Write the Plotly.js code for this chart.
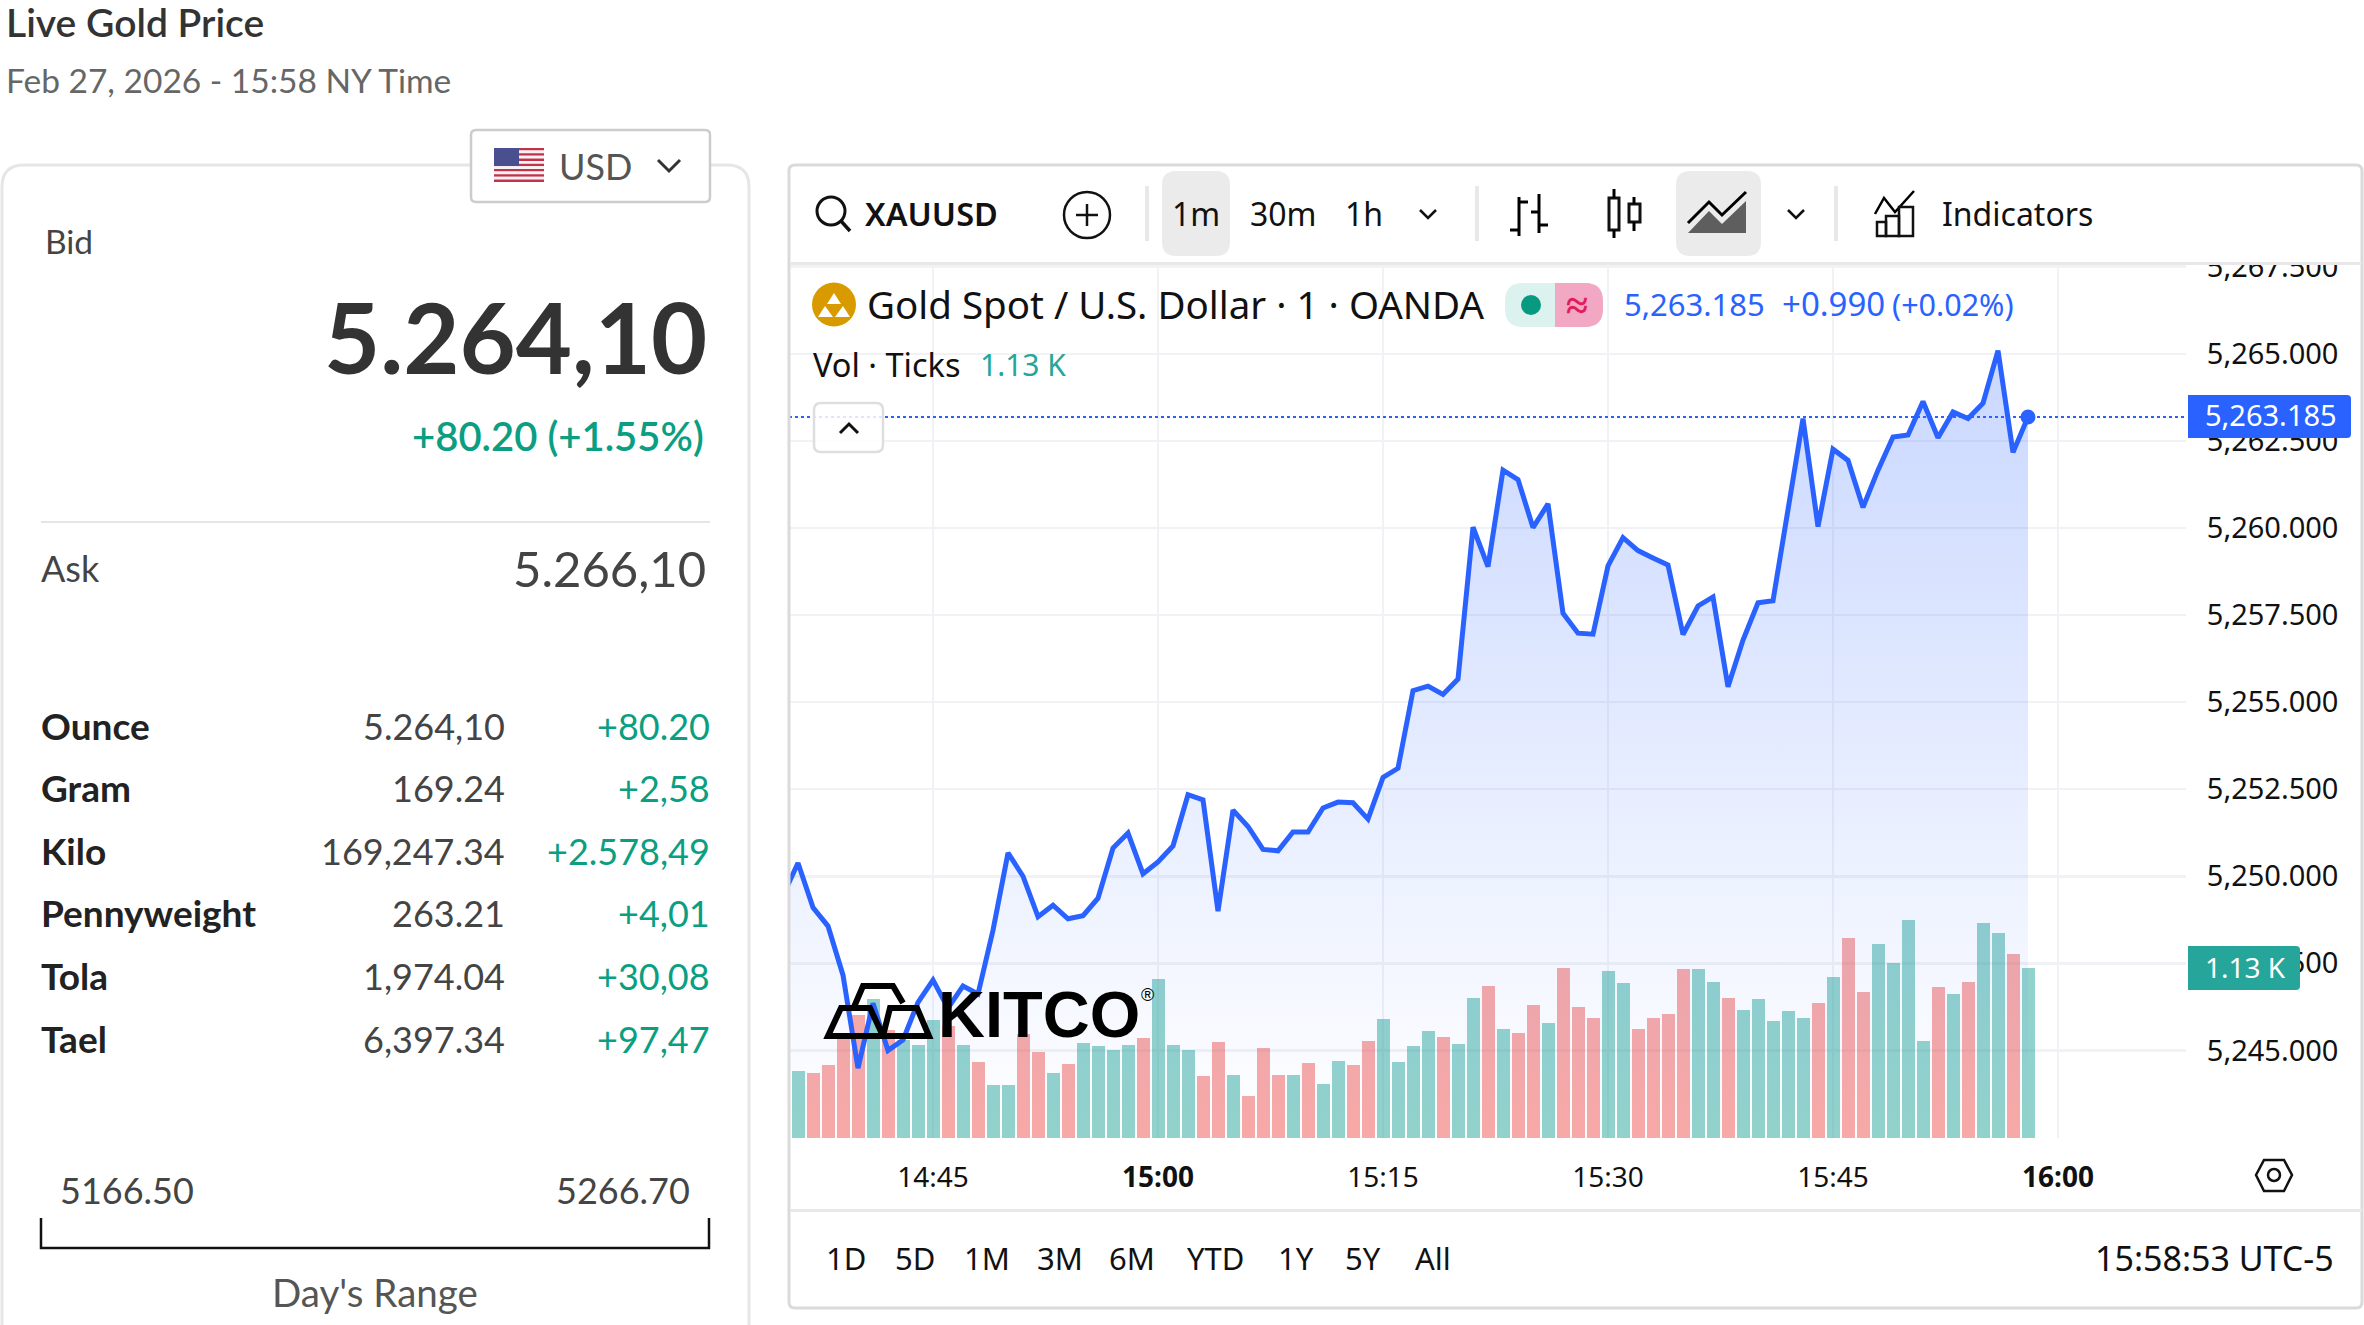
<!DOCTYPE html>
<html><head><meta charset="utf-8">
<script src="https://cdn.plot.ly/plotly-3.0.1.min.js"></script>
<style>html,body{margin:0;padding:0;background:#fff}#chart{width:2364px;height:1325px}</style>
</head><body><div id="chart"></div>
<script>
// ---------- chart data ----------
const priceTimes = ["14:35","14:36","14:37","14:38","14:39","14:40","14:41","14:42","14:43","14:44","14:45","14:46","14:47","14:48","14:49","14:50","14:51","14:52","14:53","14:54","14:55","14:56","14:57","14:58","14:59","15:00","15:01","15:02","15:03","15:04","15:05","15:06","15:07","15:08","15:09","15:10","15:11","15:12","15:13","15:14","15:15","15:16","15:17","15:18","15:19","15:20","15:21","15:22","15:23","15:24","15:25","15:26","15:27","15:28","15:29","15:30","15:31","15:32","15:33","15:34","15:35","15:36","15:37","15:38","15:39","15:40","15:41","15:42","15:43","15:44","15:45","15:46","15:47","15:48","15:49","15:50","15:51","15:52","15:53","15:54","15:55","15:56","15:57","15:58"];
const closes = [5249.45,5250.38,5249.10,5248.57,5247.16,5244.49,5246.35,5245.00,5245.30,5246.38,5247.02,5246.21,5246.85,5246.62,5248.45,5250.67,5250.00,5248.84,5249.17,5248.78,5248.87,5249.37,5250.81,5251.24,5250.07,5250.41,5250.87,5252.34,5252.19,5249.00,5251.90,5251.43,5250.77,5250.73,5251.27,5251.27,5251.96,5252.13,5252.11,5251.64,5252.84,5253.10,5255.33,5255.46,5255.22,5255.66,5260.02,5258.89,5261.66,5261.39,5260.01,5260.69,5257.55,5256.98,5256.95,5258.91,5259.72,5259.35,5259.14,5258.94,5256.94,5257.76,5258.02,5255.44,5256.78,5257.85,5257.91,5260.48,5263.14,5260.04,5262.26,5261.94,5260.59,5261.66,5262.61,5262.67,5263.63,5262.59,5263.33,5263.14,5263.58,5265.09,5262.17,5263.185];
const volumes = [446,432,485,685,818,924,718,652,618,785,745,618,505,352,352,692,572,432,492,632,612,585,618,665,1057,618,583,410,636,417,277,596,417,417,497,357,510,483,643,789,503,610,709,669,623,929,1009,723,696,882,763,1128,869,796,1108,1029,723,796,822,1122,1122,1035,929,849,922,776,842,796,896,1068,1328,969,1288,1162,1448,643,1002,955,1035,1428,1361,1221,1130];
const volumeDirs = ["G","R","R","R","R","G","R","G","G","G","R","G","R","G","G","R","R","G","R","G","G","G","G","R","G","G","G","R","R","G","R","R","R","G","R","G","G","R","R","G","G","G","G","R","G","G","R","G","R","R","G","R","R","R","G","G","R","R","R","R","G","G","R","G","G","G","G","G","R","G","R","R","G","G","G","G","R","G","R","G","G","R","G"];
const priceTicks = [5245,5247.5,5250,5252.5,5255,5257.5,5260,5262.5,5265,5267.5];
const timeTicks = ["14:45","15:00","15:15","15:30","15:45","16:00"];
const timeTickLabels = ["14:45","<b>15:00</b>","15:15","15:30","15:45","<b>16:00</b>"];
const lastPrice = 5263.185;
const panelRows = [["Ounce","5.264,10","+80.20"],["Gram","169.24","+2,58"],["Kilo","169,247.34","+2.578,49"],["Pennyweight","263.21","+4,01"],["Tola","1,974.04","+30,08"],["Tael","6,397.34","+97,47"]];
const rangeButtons = ["1D","5D","1M","3M","6M","YTD","1Y","5Y","All"];

// ---------- page geometry ----------
const W=2364,H=1325;
const PX=x=>x/W, PY=y=>1-y/H;
const day="2026-02-27 ";
const BLUE="#2962FF",TEAL="#26A69A",GREEN="#0A9E82",DARK="#333333",CF='"Noto Sans"',LF='Lato';
const plotL=789,plotR=2186,plotT=263,plotB=1138;

const annotations=[], shapes=[];
function T(text,x,y,size,color,anchor,family,weight){
  annotations.push({text:text,x:PX(x),y:PY(y),xref:'paper',yref:'paper',xanchor:anchor||'left',yanchor:'middle',showarrow:false,borderpad:0,borderwidth:0,
    font:{size:size,color:color,family:family||LF,weight:weight||400}});
}
function R(x0,y0,x1,y1,fill,line,lw){ shapes.push({type:'rect',xref:'paper',yref:'paper',x0:PX(x0),x1:PX(x1),y0:PY(y0),y1:PY(y1),fillcolor:fill||'rgba(0,0,0,0)',line:{color:line||'rgba(0,0,0,0)',width:lw||0},layer:'above'}); }
const PXR=x=>(x/W).toFixed(6), PYR=y=>(1-y/H).toFixed(6);
function P(pts,opt){ opt=opt||{}; const d=pts.map((p,i)=>(i?'L':'M')+PXR(p[0])+' '+PYR(p[1])).join(' ')+(opt.close?' Z':'');
  shapes.push({type:'path',xref:'paper',yref:'paper',path:d,fillcolor:opt.fill||'rgba(0,0,0,0)',line:{color:opt.color||'#000',width:opt.w===undefined?2:opt.w},layer:'above'}); }
function RR(x0,y0,x1,y1,r,fill,line,lw,openBottom){
  const X=PXR,Y=PYR;
  let d='M'+X(x0)+' '+Y(y0+r)+' Q'+X(x0)+' '+Y(y0)+' '+X(x0+r)+' '+Y(y0)+' L'+X(x1-r)+' '+Y(y0)+' Q'+X(x1)+' '+Y(y0)+' '+X(x1)+' '+Y(y0+r);
  if(openBottom){ d+=' L'+X(x1)+' '+Y(y1)+' M'+X(x0)+' '+Y(y1)+' L'+X(x0)+' '+Y(y0+r); }
  else d+=' L'+X(x1)+' '+Y(y1-r)+' Q'+X(x1)+' '+Y(y1)+' '+X(x1-r)+' '+Y(y1)+' L'+X(x0+r)+' '+Y(y1)+' Q'+X(x0)+' '+Y(y1)+' '+X(x0)+' '+Y(y1-r)+' Z';
  shapes.push({type:'path',xref:'paper',yref:'paper',path:d,fillcolor:fill||'rgba(0,0,0,0)',line:{color:line||'rgba(0,0,0,0)',width:lw||0},layer:'above'});
}
function circle(cx,cy,r,fill,line,lw){ shapes.push({type:'circle',xref:'paper',yref:'paper',x0:PX(cx-r),x1:PX(cx+r),y0:PY(cy+r),y1:PY(cy-r),fillcolor:fill||'rgba(0,0,0,0)',line:{color:line||'rgba(0,0,0,0)',width:lw||0},layer:'above'}); }

// ---------- left panel ----------
T("Live Gold Price",6,22,39,DARK,'left',LF,600);
T("Feb 27, 2026 - 15:58 NY Time",6,80,33.5,"#666666");
RR(2,165,749,1340,22,null,"#E6E6E6",3,true);
RR(471,130,710,202,5,"#FFFFFF","#CCCCCC",2.5);
// flag
for(let i=0;i<13;i++) R(494,148+i*34/13,544,148+(i+1)*34/13,i%2?"#F4F4F4":"#C4314B");
R(494,148,519,166,"#4A4F8F");
T("USD",559,166,36,"#555555");
P([[658,160],[669,171],[680,160]],{color:"#333",w:3});
T("Bid",45,241,33.5,"#444444");
T("5.264,10",707,336,97,DARK,'right',LF,700);
T("+80.20 (+1.55%)",704,436,40,GREEN,'right',LF,600);
R(41,521,710,523,"#E5E5E5");
T("Ask",41,568,36,"#444444");
T("5.266,10",706,568,49,"#444444",'right',LF,400);
const rowYs=[725.5,787.5,850.5,912.5,975.5,1038.5];
panelRows.forEach((r,i)=>{ T(r[0],41,rowYs[i],37,"#222222",'left',LF,700); T(r[1],505,rowYs[i],36,"#444444",'right'); T(r[2],710,rowYs[i],36,GREEN,'right'); });
T("5166.50",60,1190,36,"#444444"); T("5266.70",690,1190,36,"#444444",'right');
P([[41,1218],[41,1248],[709,1248],[709,1218]],{color:"#111",w:2.5});
T("Day's Range",375,1292,38.5,"#555555",'center');

// ---------- chart frame and toolbar ----------
R(789,167,2362,262,"#FFFFFF");                 // toolbar hides what rises above the plot
R(2187,1139,2362,1150,"#FFFFFF");
RR(789,165,2362,1308,6,null,"#DADADA",3);
R(790,262,2362,265,"#E8E8E8");
R(790,1209,2362,1212,"#E8E8E8");
// search
circle(831,211,14,null,"#111",3); P([[841,221],[850,231]],{color:"#111",w:3.5});
T("XAUUSD",865,213.5,32.5,"#111111",'left',CF,600);
circle(1087,215,23,null,"#111",2.5); P([[1076,215],[1098,215]],{color:"#111",w:2.5}); P([[1087,204],[1087,226]],{color:"#111",w:2.5});
R(1145,186,1149,241,"#E8E8E8");
RR(1162,171,1230,256,14,"#EBEBEB");
T("1m",1196,214,32,"#111111",'center',CF); T("30m",1283,214,32,"#111111",'center',CF); T("1h",1364,214,32,"#111111",'center',CF);
P([[1420,210],[1428,218],[1436,210]],{color:"#111",w:2.5});
R(1475,186,1479,241,"#E8E8E8");
// bars icon
P([[1519,197],[1519,236]],{w:3}); P([[1519,202],[1528,202]],{w:3}); P([[1510,230],[1519,230]],{w:3});
P([[1539,194],[1539,233]],{w:3}); P([[1531,212],[1539,212]],{w:3}); P([[1539,225],[1548,225]],{w:3});
// candle icon
R(1609,198,1619,230,null,"#111",3); P([[1614,189],[1614,198]],{w:3}); P([[1614,230],[1614,238]],{w:3});
R(1629,204,1640,222,null,"#111",3); P([[1634,197],[1634,204]],{w:3}); P([[1634,222],[1634,231]],{w:3});
// area icon
RR(1676,171,1761,256,14,"#EBEBEB");
P([[1688,233],[1709,211],[1722,224],[1746,201],[1746,233]],{close:true,fill:"rgba(0,0,0,0.6)",w:0,color:"rgba(0,0,0,0)"});
P([[1688,223],[1709,202],[1722,215],[1746,192]],{w:3});
P([[1788,210],[1796,218],[1804,210]],{color:"#111",w:2.5});
R(1834,186,1838,241,"#E8E8E8");
// indicators icon
P([[1875,214],[1884,198],[1895,212],[1914,191]],{w:2.5});
R(1877,222,1886,236,null,"#111",2.5); R(1886,216,1899,236,null,"#111",2.5); R(1899,207,1913,236,null,"#111",2.5);
T("Indicators",1942,213.5,32,"#111111",'left',CF);

// ---------- legend over the plot ----------
circle(834,304.5,22,"#D99A00");
P([[834,293],[827,304],[841,304]],{close:true,fill:"#FFF",w:0,color:"rgba(0,0,0,0)"});
P([[825,306],[818,317],[833,317]],{close:true,fill:"#FFF",w:0,color:"rgba(0,0,0,0)"});
P([[843,306],[835,317],[850,317]],{close:true,fill:"#FFF",w:0,color:"rgba(0,0,0,0)"});
T("Gold Spot / U.S. Dollar · 1 · OANDA",867,304,38.5,"#111111",'left',CF);
RR(1505,283,1603,327,18,"#DCF2EF");
shapes.push({type:'path',xref:'paper',yref:'paper',layer:'above',fillcolor:"#F2A8C2",line:{width:0,color:'rgba(0,0,0,0)'},path:'M'+PXR(1555)+' '+PYR(283)+' L'+PXR(1585)+' '+PYR(283)+' Q'+PXR(1603)+' '+PYR(283)+' '+PXR(1603)+' '+PYR(301)+' L'+PXR(1603)+' '+PYR(309)+' Q'+PXR(1603)+' '+PYR(327)+' '+PXR(1585)+' '+PYR(327)+' L'+PXR(1555)+' '+PYR(327)+' Z'});
circle(1531,305,10,"#089981");
T("≈",1577,304,40,"#E11D5E",'center',CF,700);
T("5,263.185",1624,304,31,BLUE,'left',CF); T("+0.990",1782,304,33,BLUE,'left',CF); T("(+0.02%)",1892,304,30.5,BLUE,'left',CF);
T("Vol · Ticks",813,364,32.5,"#111111",'left',CF); T("1.13 K",980,364,30,TEAL,'left',CF);
RR(814,403,883,452,7,"rgba(255,255,255,0.85)","#DEDEDE",2.5);
P([[840,433],[849,424],[858,433]],{color:"#111",w:3});

// ---------- price and volume tags ----------
RR(2188,395,2351,438,4,BLUE); R(2188,395,2200,438,BLUE);
T("5,263.185",2205,415,29,"#FFFFFF",'left',CF);
RR(2188,946,2300,990,4,TEAL); R(2188,946,2200,990,TEAL);
T("1.13 K",2205,967,28,"#FFFFFF",'left',CF);

// ---------- axis settings hexagon ----------
P([[2256,1175],[2264,1160],[2284,1160],[2292,1175],[2284,1191],[2264,1191]],{close:true,color:"#111",w:2.5});
circle(2274,1175,6,null,"#111",2.5);

// ---------- range row ----------
const rangeXs=[846,915,987,1060,1132,1215,1296,1363,1433];
rangeButtons.forEach((b,i)=>T(b,rangeXs[i],1258,31,"#111111",'center',CF));
T("15:58:53 UTC-5",2334,1258,34,"#111111",'right',CF);

// ---------- KITCO watermark ----------
const kw=6;
P([[828,1036],[841,1008],[870,1008],[883,1036]],{close:true,w:kw,color:"#000"});
P([[883,1036],[890,1008],[917,1008],[929,1036]],{close:true,w:kw,color:"#000"});
P([[854,1007],[863,986],[893,986],[903,1003]],{w:kw,color:"#000"});
T("KITCO",938,1014,65,"#000000",'left','Liberation Sans',700);
T("®",1147,995,18,"#000000",'center','Liberation Sans',400);

// ---------- traces ----------
const priceX=priceTimes.map(t=>day+t);
const volX=priceTimes.slice(1).map(t=>day+t);
const volColors=volumeDirs.map(d=>d==="G"?"rgba(38,166,154,0.5)":"rgba(239,83,80,0.5)");
const traces=[
 {type:'bar',x:volX,y:volumes,width:52000,marker:{color:volColors,line:{width:0}},xaxis:'x',yaxis:'y',hoverinfo:'skip',showlegend:false},
 {type:'scatter',mode:'lines',x:priceX,y:closes,xaxis:'x',yaxis:'y2',line:{color:BLUE,width:5,shape:'linear'},fill:'tozeroy',
  fillgradient:{type:'vertical',start:5242.5,stop:5265.09,colorscale:[[0,'rgba(41,98,255,0)'],[1,'rgba(41,98,255,0.25)']]},hoverinfo:'skip',showlegend:false},
 {type:'scatter',mode:'markers',x:[priceX[priceX.length-1]],y:[lastPrice],xaxis:'x',yaxis:'y2',marker:{color:BLUE,size:15},hoverinfo:'skip',showlegend:false,cliponaxis:false}
];
shapes.unshift({type:'line',xref:'paper',yref:'y2',x0:PX(plotL),x1:PX(plotR),y0:lastPrice,y1:lastPrice,line:{color:BLUE,width:2,dash:'dot'},layer:'above'});

const layout={
 width:W,height:H,autosize:false,margin:{l:0,r:0,t:0,b:0},paper_bgcolor:'#fff',plot_bgcolor:'#fff',showlegend:false,bargap:0,hovermode:false,
 xaxis:{type:'date',domain:[PX(plotL),PX(plotR)],range:[day+'14:35:24',day+'16:08:32'],tickmode:'array',tickvals:timeTicks.map(t=>day+t),ticktext:timeTickLabels,
   showgrid:true,gridcolor:'#F1F2F5',gridwidth:2,zeroline:false,showline:false,ticks:'outside',ticklen:14,tickcolor:'rgba(0,0,0,0)',tickangle:0,
   tickfont:{family:CF,size:28,color:'#111'},anchor:'y'},
 yaxis:{domain:[PY(plotB),PY(plotT)],range:[0,5819],visible:false,fixedrange:true},
 yaxis2:{domain:[PY(plotB),PY(plotT)],range:[5242.485,5267.607],overlaying:'y',side:'right',anchor:'x',tickmode:'array',tickvals:priceTicks,tickformat:',.3f',
   showgrid:true,gridcolor:'#F1F2F5',gridwidth:2.5,zeroline:false,showline:false,ticks:'outside',ticklen:14,tickcolor:'rgba(0,0,0,0)',ticklabelshift:1.5,
   tickfont:{family:CF,size:29,color:'#111'}},
 shapes:shapes,annotations:annotations
};
Plotly.newPlot('chart',traces,layout,{displayModeBar:false,staticPlot:true});
</script></body></html>
